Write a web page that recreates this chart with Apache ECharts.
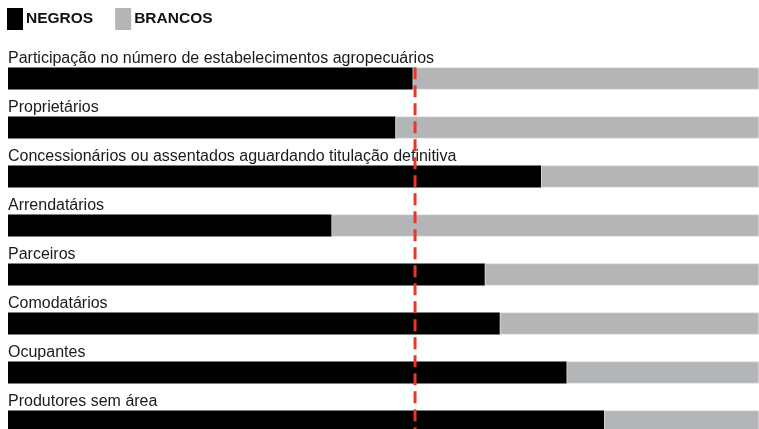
<!DOCTYPE html>
<html>
<head>
<meta charset="utf-8">
<script src="https://cdn.jsdelivr.net/npm/echarts@6/dist/echarts.min.js"></script>
<style>
  html, body { margin: 0; padding: 0; background: #fff; overflow: hidden; }
  /* taller than the window: the last bar is cut by the bottom edge, as in the source */
  #chart { width: 759px; height: 446px; }
</style>
</head>
<body>
<div id="chart"></div>
<script>
// categories, top to bottom
var categories = [
    'Participação no número de estabelecimentos agropecuários',
    'Proprietários',
    'Concessionários ou assentados aguardando titulação definitiva',
    'Arrendatários',
    'Parceiros',
    'Comodatários',
    'Ocupantes',
    'Produtores sem área'
];

// share of black producers (%)
var negros = [53.9, 51.6, 71.0, 43.1, 63.5, 65.5, 74.4, 79.4];
var brancos = negros.map(function (v) { return +(100 - v).toFixed(1); });

// reference line (dashed red): x value, and its vertical span in row units
// (0 = top of first row, 8 = bottom of last row); it starts at the top of the first bar
var referenceValue = 54.2;
var referenceSpan = [0.27, 8];

var chart = echarts.init(document.getElementById('chart'));

var option = {
    animation: false,
    textStyle: { fontFamily: 'Liberation Sans, Arial, sans-serif' },
    legend: {
        left: 7,
        top: 8,
        padding: 0,
        itemWidth: 16,
        itemHeight: 22,
        itemGap: 22,
        itemStyle: { borderWidth: 0 },
        textStyle: {
            fontSize: 15.5,
            fontWeight: 'bold',
            color: '#111',
            padding: [2, 0, 0, -2]
        },
        data: [
            { name: 'NEGROS', icon: 'rect' },
            { name: 'BRANCOS', icon: 'rect' }
        ]
    },
    grid: {
        left: 8,
        right: 0,
        top: 54,
        bottom: 0
    },
    xAxis: {
        type: 'value',
        min: 0,
        max: 100,
        show: false
    },
    yAxis: [
        {
            type: 'category',
            inverse: true,
            data: categories,
            show: false
        },
        {
            // hidden helper axis in row units, for the reference line
            type: 'value',
            inverse: true,
            min: 0,
            max: categories.length,
            show: false
        }
    ],
    series: [
        {
            name: 'NEGROS',
            type: 'bar',
            stack: 'total',
            barWidth: 22,
            data: negros,
            itemStyle: { color: '#000' },
            label: {
                show: true,
                position: [0, -1],
                align: 'left',
                verticalAlign: 'bottom',
                fontSize: 16,
                color: '#1a1a1a',
                formatter: function (p) { return p.name; }
            },
            z: 2
        },
        {
            name: 'BRANCOS',
            type: 'bar',
            stack: 'total',
            barWidth: 22,
            data: brancos,
            itemStyle: {
                color: '#b4b5b7',
                borderColor: '#e6e6e6',
                borderWidth: 0.5
            }
        },
        {
            name: 'referencia',
            type: 'line',
            yAxisIndex: 1,
            silent: true,
            symbol: 'none',
            data: referenceSpan.map(function (y) { return [referenceValue, y]; }),
            lineStyle: {
                color: '#e8372b',
                width: 3,
                type: [12, 6]
            },
            z: 5
        }
    ]
};

chart.setOption(option);
</script>
</body>
</html>
